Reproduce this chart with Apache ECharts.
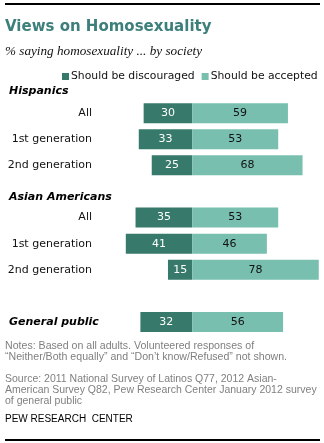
<!DOCTYPE html>
<html><head><meta charset="utf-8">
<script src="https://cdn.jsdelivr.net/npm/echarts@6/dist/echarts.min.js"></script>
<style>html,body{margin:0;padding:0;background:#fff}#c{width:324px;height:443px}</style>
</head><body><div id="c"></div>
<script>
var categories = ['', 'All', '1st generation', '2nd generation', '', 'All', '1st generation', '2nd generation', '', 'General public'];
var discouraged = [null, 30, 33, 25, null, 35, 41, 15, null, 32];
var accepted = [null, 59, 53, 68, null, 53, 46, 78, null, 56];
var groupHeaders = ['Hispanics', 'Asian Americans'];

var DARK = '#37796a', LIGHT = '#79bfb0';
var chart = echarts.init(document.getElementById('c'), null, {renderer: 'canvas'});
chart.setOption({
  animation: false,
  grid: {left: 95, right: 2, top: 74, height: 261, containLabel: false},
  xAxis: {type: 'value', min: -60, max: 80, show: false},
  yAxis: {
    type: 'category', data: categories, inverse: true,
    axisLine: {show: false}, axisTick: {show: false}, splitLine: {show: false},
    axisLabel: {
      margin: 3, fontFamily: 'DejaVu Sans', fontSize: 11, color: '#111',
      formatter: function (v) { return v === 'General public' ? '{gp|' + v + '}' : v; },
      rich: {gp: {fontWeight: 'bold', fontStyle: 'italic', fontSize: 11, width: 83, align: 'left', color: '#000', fontFamily: 'DejaVu Sans'}}
    }
  },
  legend: {
    top: 71, left: 62, right: 0, padding: 0, itemWidth: 7, itemHeight: 7, itemGap: 7,
    orient: 'horizontal',
    icon: 'rect', textStyle: {fontFamily: 'DejaVu Sans', fontSize: 10.8, color: '#111', padding: [0, 0, 0, -3]},
    data: ['Should be discouraged', 'Should be accepted']
  },
  series: [
    {name: 'Should be discouraged', type: 'bar', stack: 's', barWidth: 20,
     itemStyle: {color: DARK},
     data: discouraged.map(function (v) { return v == null ? null : -v; }),
     label: {show: true, position: 'inside', color: '#fff', fontFamily: 'DejaVu Sans', fontSize: 11,
       formatter: function (p) { return Math.abs(p.value); }}},
    {name: 'Should be accepted', type: 'bar', stack: 's', barWidth: 20,
     itemStyle: {color: LIGHT},
     data: accepted,
     label: {show: true, position: 'inside', color: '#111', fontFamily: 'DejaVu Sans', fontSize: 11}}
  ],
  graphic: [
    {type: 'rect', shape: {x: 5, y: 3, width: 315, height: 2}, style: {fill: '#000'}},
    {type: 'rect', shape: {x: 5, y: 439, width: 315, height: 2}, style: {fill: '#000'}},
    {type: 'text', left: 5, top: 20, style: {text: 'Views on Homosexuality', fontFamily: 'DejaVu Sans', fontWeight: 'bold', fontSize: 15, fill: '#3c7f7b'}},
    {type: 'text', left: 5, top: 45, style: {text: '% saying homosexuality ... by society', fontFamily: 'Liberation Serif', fontStyle: 'italic', fontSize: 13.2, fill: '#111'}},
    {type: 'text', left: 9, top: 86, style: {text: groupHeaders[0], fontFamily: 'DejaVu Sans', fontWeight: 'bold', fontStyle: 'italic', fontSize: 11, fill: '#000'}},
    {type: 'text', left: 9, top: 192, style: {text: groupHeaders[1], fontFamily: 'DejaVu Sans', fontWeight: 'bold', fontStyle: 'italic', fontSize: 11, fill: '#000'}},
    {type: 'text', left: 5, top: 341, style: {text: 'Notes: Based on all adults. Volunteered responses of\n\u201CNeither/Both equally\u201D and \u201CDon\u2019t know/Refused\u201D not shown.', fontFamily: 'Liberation Sans', fontSize: 10.6, lineHeight: 10.7, fill: '#7f7f7f'}},
    {type: 'text', left: 5, top: 374, style: {text: 'Source: 2011 National Survey of Latinos Q77, 2012 Asian-\nAmerican Survey Q82, Pew Research Center January 2012 survey\nof general public', fontFamily: 'Liberation Sans', fontSize: 10.5, lineHeight: 10.7, fill: '#7f7f7f'}},
    {type: 'text', left: 5, top: 414, style: {text: 'PEW RESEARCH  CENTER', fontFamily: 'Liberation Sans', fontSize: 10, fill: '#000'}}
  ]
});
</script></body></html>
